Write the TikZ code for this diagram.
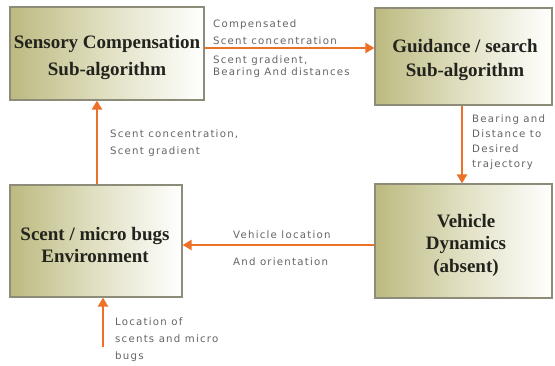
\documentclass[tikz,border=0pt]{standalone}
\usepackage{fontspec}
\setmainfont{Liberation Serif}
\newfontfamily\labfont[LetterSpace=12]{DejaVu Sans}
\usetikzlibrary{arrows.meta}
\definecolor{olive}{RGB}{188,186,128}
\definecolor{midolive}{RGB}{225,224,195}
\definecolor{boxline}{RGB}{140,140,120}
\definecolor{arr}{RGB}{236,112,40}
\definecolor{lbl}{RGB}{100,100,100}
\definecolor{btxt}{RGB}{35,35,30}
\tikzset{
  block/.style={draw=boxline, line width=1.2pt, left color=olive, right color=white, middle color=midolive,
    inner sep=0pt},
  bfont/.style={font=\rmfamily\bfseries\fontsize{19}{#1}\selectfont, text=btxt, align=center, inner sep=0pt},
  flow/.style={draw=arr, line width=2.6pt, -{Triangle[length=9pt,width=10pt]}},
  lab/.style={font=\labfont\fontsize{10.2}{#1}\selectfont, text=lbl, align=left, inner sep=0pt, anchor=west}
}
\begin{document}
\begin{tikzpicture}[x=1pt,y=-1pt]
\useasboundingbox (0,0) rectangle (555,365);
\node[block, minimum width=194pt, minimum height=93pt] (sens) at (107,53.5) {};
\node[bfont=27] (sensT) at (107,58) {Sensory Compensation\\Sub-algorithm};
\node[block, minimum width=177pt, minimum height=97pt] (guid) at (463.5,56.5) {};
\node[bfont=24] (guidT) at (465,60) {Guidance / search\\Sub-algorithm};
\node[block, minimum width=172pt, minimum height=112pt] (env) at (96,241) {};
\node[bfont=22] (envT) at (95,245) {Scent / micro bugs\\Environment};
\node[block, minimum width=177pt, minimum height=114pt] (veh) at (463.5,241) {};
\node[bfont=22.5] (vehT) at (466,245) {Vehicle\\Dynamics\\(absent)};
\coordinate (src) at (103,347);
\draw[flow] (sens.east |- 0,48) -- (guid.west |- 0,48);
\draw[flow] (guid.south -| 462,0) -- (veh.north -| 462,0);
\draw[flow] (veh.west |- 0,245) -- (env.east |- 0,245);
\draw[flow] (env.north -| 97,0) -- (sens.south -| 97,0);
\draw[flow] (src) -- (env.south -| 103,0);
\node[lab=12] (l1) at (213,25) {Compensated};
\node[lab=12] (l2) at (213,41) {Scent concentration};
\node[lab=11.5] (l3) at (213,66.5) {Scent gradient,\\Bearing And distances};
\node[lab=15] (l4) at (472,142.5) {Bearing and\\Distance to\\Desired\\trajectory};
\node[lab=12] (l5) at (233,235) {Vehicle location};
\node[lab=12] (l6) at (233,262) {And orientation};
\node[lab=17] (l7) at (110,143.5) {Scent concentration,\\Scent gradient};
\node[lab=17] (l8) at (115,340) {Location of\\scents and micro\\bugs};
\end{tikzpicture}
\end{document}
